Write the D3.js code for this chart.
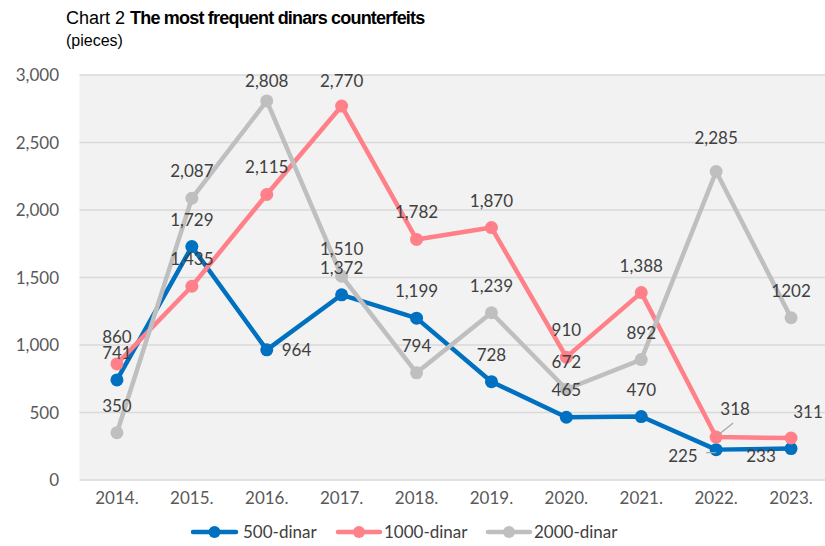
<!DOCTYPE html>
<html>
<head>
<meta charset="utf-8">
<script src="https://cdn.jsdelivr.net/npm/d3@7"></script>
<style>
  body { margin: 0; background: #fff; }
  svg { display: block; }
</style>
</head>
<body>
<div id="chart"></div>
<script>
const years = ['2014.', '2015.', '2016.', '2017.', '2018.', '2019.', '2020.', '2021.', '2022.', '2023.'];
const dinar500 = [741, 1729, 964, 1372, 1199, 728, 465, 470, 225, 233];
const dinar1000 = [860, 1435, 2115, 2770, 1782, 1870, 910, 1388, 318, 311];
const dinar2000 = [350, 2087, 2808, 1510, 794, 1239, 672, 892, 2285, 1202];
const yTicks = [0, 500, 1000, 1500, 2000, 2500, 3000];

const series = [
  { name: '500-dinar', key: 'd500', values: dinar500, color: '#0070C0' },
  { name: '1000-dinar', key: 'd1000', values: dinar1000, color: '#FF8088' },
  { name: '2000-dinar', key: 'd2000', values: dinar2000, color: '#BFBFBF' },
];

const width = 825;
const height = 546;
const plot = { left: 79.5, right: 828.5, top: 75, bottom: 480 };

const svg = d3
  .select('#chart')
  .append('svg')
  .attr('width', width)
  .attr('height', height);

const x = d3.scalePoint().domain(years).range([plot.left, plot.right]).padding(0.5);
const y = d3.scaleLinear().domain([0, 3000]).range([plot.bottom, plot.top]);

// title
const title = svg.append('text').attr('x', 66).attr('y', 24)
  .style('font-family', '"Liberation Sans", Arial, sans-serif')
  .style('font-size', '18px').attr('fill', '#000');
title.append('tspan').text('Chart 2 ');
title.append('tspan').attr('font-weight', 'bold').style('letter-spacing', '-0.8px')
  .text('The most frequent dinars counterfeits');
svg.append('text').attr('x', 66).attr('y', 46)
  .style('font-family', '"Liberation Sans", Arial, sans-serif')
  .style('font-size', '16px').text('(pieces)');

// plot background
svg.append('rect')
  .attr('x', plot.left).attr('y', plot.top)
  .attr('width', plot.right - plot.left).attr('height', plot.bottom - plot.top)
  .attr('fill', '#F2F2F2');

// gridlines + y labels
const font = 'Lato, "Open Sans", sans-serif';
svg.append('g').selectAll('line').data(yTicks).join('line')
  .attr('x1', plot.left).attr('x2', plot.right)
  .attr('y1', d => y(d)).attr('y2', d => y(d))
  .attr('stroke', '#D9D9D9').attr('stroke-width', 1.5);

svg.append('g').selectAll('text').data(yTicks).join('text')
  .attr('x', 59).attr('y', d => y(d) + 6)
  .attr('text-anchor', 'end')
  .style('font-family', font).style('font-size', '17px')
  .attr('fill', '#595959')
  .text(d => d3.format(',')(d));

// x labels
svg.append('g').selectAll('text').data(years).join('text')
  .attr('x', d => x(d)).attr('y', 504)
  .attr('text-anchor', 'middle')
  .style('font-family', font).style('font-size', '17px')
  .attr('fill', '#595959')
  .text(d => d);

// lines and markers
const line = d3.line().x((d, i) => x(years[i])).y(d => y(d));

series.forEach(s => {
  const g = svg.append('g').attr('class', s.key);
  g.append('path')
    .attr('d', line(s.values))
    .attr('fill', 'none')
    .attr('stroke', s.color)
    .attr('stroke-width', 4.5)
    .attr('stroke-linejoin', 'round');
  g.selectAll('circle').data(s.values).join('circle')
    .attr('cx', (d, i) => x(years[i]))
    .attr('cy', d => y(d))
    .attr('r', 6.5)
    .attr('fill', s.color);
});

// data labels: above by default, a few moved like the original
const labelFix = {
  'd500-2016.': { dx: 15, dy: 0, anchor: 'start' },
  'd500-2022.': { dx: -48, dy: 12, anchor: 'start', lead: [[-10, 3], [0, 3]] },
  'd500-2023.': { dx: -30, dy: 13, anchor: 'middle' },
  'd1000-2022.': { dx: 19, dy: -22, anchor: 'middle', lead: [[17, -14], [2, -2]] },
  'd1000-2023.': { dx: 17, dy: -20, anchor: 'middle' },
  'd2000-2022.': { dx: 0, dy: -28, anchor: 'middle' },
};

const labels = svg.append('g')
  .style('font-family', font).style('font-size', '17px')
  .attr('fill', '#404040');

series.forEach(s => {
  s.values.forEach((v, i) => {
    const px = x(years[i]);
    const py = y(v);
    const fix = labelFix[s.key + '-' + years[i]];
    const txt = v === 1202 ? '1202' : d3.format(',')(v);
    let tx = px, ty = Math.max(py - 21, 87), anchor = 'middle';
    if (fix) {
      tx = px + fix.dx;
      ty = py + fix.dy + (fix.anchor === 'start' && !fix.lead ? 6 : 0);
      anchor = fix.anchor;
      if (fix.lead) {
        labels.append('path')
          .attr('d', d3.line()(fix.lead.map(p => [px + p[0], py + p[1]])))
          .attr('stroke', '#A6A6A6').attr('stroke-width', 1.2).attr('fill', 'none');
      }
    }
    labels.append('text')
      .attr('x', tx).attr('y', ty)
      .attr('text-anchor', anchor)
      .text(txt);
  });
});

// legend
const legendLine = [[193, 236], [338, 380], [488, 530]];
const legendText = [243, 384, 534];
const legend = svg.append('g');
series.forEach((s, i) => {
  const [x1, x2] = legendLine[i];
  legend.append('line')
    .attr('x1', x1).attr('x2', x2)
    .attr('y1', 532).attr('y2', 532)
    .attr('stroke', s.color).attr('stroke-width', 4.5)
    .attr('stroke-linecap', 'round');
  legend.append('circle')
    .attr('cx', (x1 + x2) / 2).attr('cy', 532).attr('r', 6)
    .attr('fill', s.color);
  legend.append('text')
    .attr('x', legendText[i]).attr('y', 538)
    .style('font-family', font).style('font-size', '17px')
    .attr('fill', '#404040')
    .text(s.name);
});
</script>
</body>
</html>
